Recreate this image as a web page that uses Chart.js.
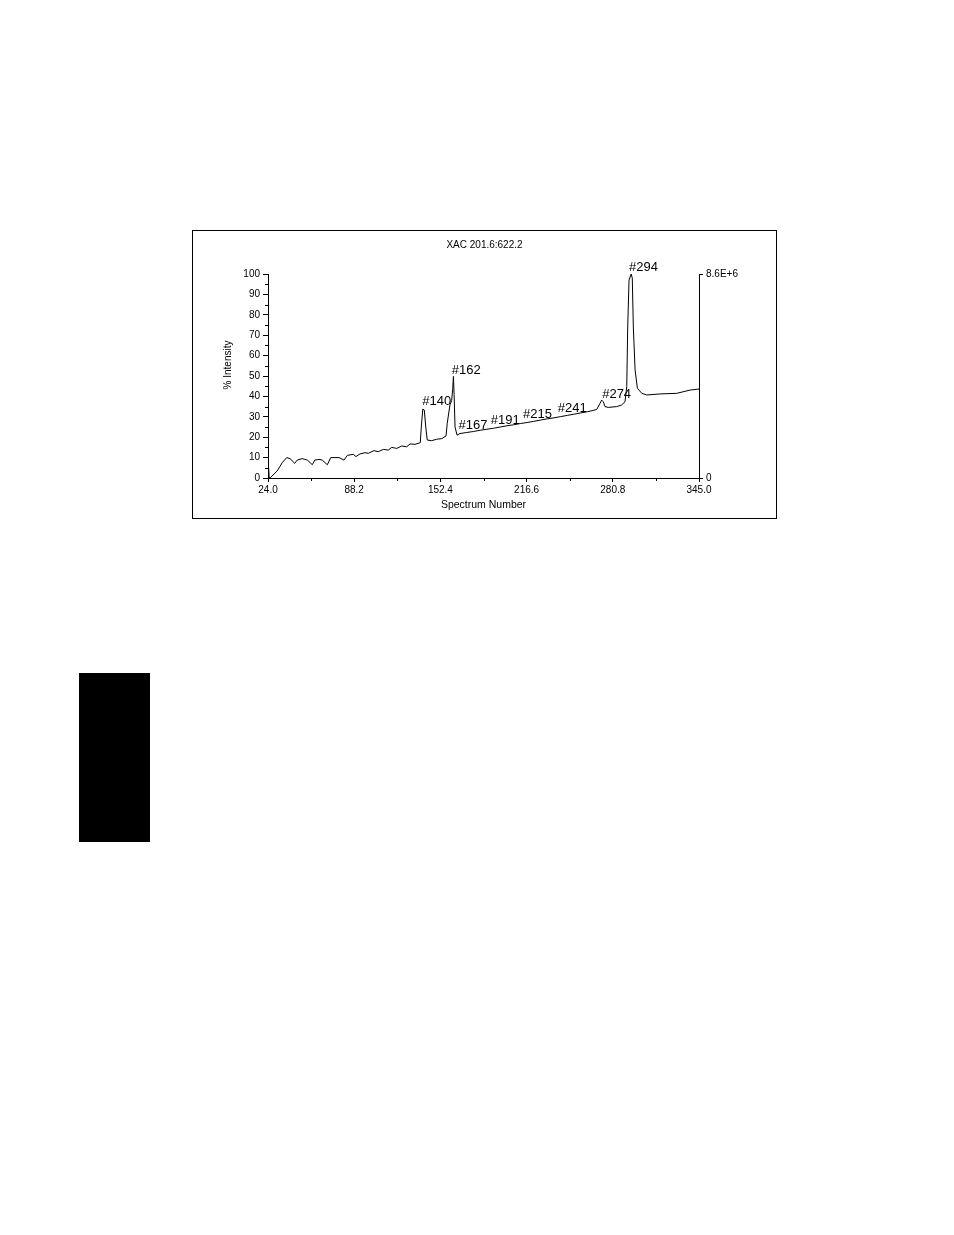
<!DOCTYPE html>
<html>
<head>
<meta charset="utf-8">
<title>XAC 201.6:622.2</title>
<script src="https://cdn.jsdelivr.net/npm/chart.js@4.4.1/dist/chart.umd.min.js"></script>
<style>
    html, body { margin: 0; padding: 0; background: #fff; }
    body { width: 954px; height: 1235px; position: relative; overflow: hidden; }
    #frame { position: absolute; left: 192px; top: 230px; width: 583px; height: 287px; border: 1px solid #000; }
    #tab { position: absolute; left: 79px; top: 673px; width: 71px; height: 169px; background: #000; }
</style>
</head>
<body>
<div id="frame"><canvas id="myChart"></canvas></div>
<div id="tab"></div>
<script>
// values (spectrum number / % intensity)
var spectrum = [24.0, 24.4, 24.9, 26.0, 30.9, 34.6, 37.9, 40.4, 43.9, 45.8, 49.5, 53.3, 57.0, 58.8, 62.0, 64.4,
    68.2, 70.7, 76.9, 80.6, 83.1, 87.5, 89.5, 92.5, 96.2, 98.7, 102.9, 106.1, 109.9, 113.6, 116.1,
    119.9, 123.6, 127.3, 129.8, 133.5, 137.4, 138.3, 139.3, 140.4, 141.5, 142.6, 145.9, 149.6, 153.4,
    156.6, 157.5, 159.5, 160.8, 161.6, 162.1, 162.6, 163.3, 164.8, 167, 172, 177, 182, 187, 192,
    197, 202, 207, 212, 217, 222, 227, 232, 237, 242, 247, 252, 257, 262, 266, 268.8, 271.3, 272.5,
    273.7, 275.0, 277.4, 283.7, 287.4, 289.9, 291.2, 291.9, 292.9, 294.5, 295.3, 296.1, 297.4, 299.1,
    302.4, 306.1, 316.0, 328.4, 338.4, 345.0];
var intensity = [0, 5.5, 0, 0.3, 3.5, 7.5, 10, 9.5, 7.2, 8.8, 9.5, 8.8, 6.5, 8.8, 9.1, 8.8,
    6.5, 10, 10, 8.8, 11.1, 11.6, 10.5, 11.8, 12.4, 12.1, 13.4, 12.9, 14, 13.7, 15,
    14.5, 15.7, 15.3, 16.7, 16.5, 17.3, 26, 33.8, 33.3, 25, 18.6, 18.3, 19, 19.3,
    20.6, 26.8, 35.8, 38, 44, 49.8, 41, 25, 21, 21.8, 22.3, 22.8, 23.4, 23.9, 24.4,
    25.0, 25.6, 26.1, 26.7, 27.2, 27.8, 28.4, 29.0, 29.5, 30.1, 30.7, 31.3, 31.9, 32.5, 33.1, 33.6, 36.6, 38.2,
    37.4, 35, 34.6, 35, 35.8, 37.4, 44.8, 74, 97, 100, 98, 74, 53, 44,
    41.5, 40.7, 41.2, 41.5, 43.1, 43.6];

var xTicks = [24.0, 88.2, 152.4, 216.6, 280.8, 345.0];
var yTicks = [0, 10, 20, 30, 40, 50, 60, 70, 80, 90, 100];
var rightTicks = [0, 8.6e6];
var rightLabels = ['0', '8.6E+6'];
var peaks = [140, 162, 167, 191, 215, 241, 274, 294];

var chartTitle = 'XAC 201.6:622.2';
var xTitle = 'Spectrum Number';
var yTitle = '% Intensity';

var fontFamily = '"Liberation Sans", Arial, Helvetica, sans-serif';
Chart.defaults.font.family = fontFamily;
Chart.defaults.font.size = 10;
Chart.defaults.color = '#000';

var valueAt = function (s) {
    for (var i = 1; i < spectrum.length; i++) {
        if (spectrum[i] >= s) {
            var t = (s - spectrum[i - 1]) / (spectrum[i] - spectrum[i - 1]);
            return intensity[i - 1] + t * (intensity[i] - intensity[i - 1]);
        }
    }
    return intensity[intensity.length - 1];
};

var midpoints = function (arr) {
    var out = [];
    for (var i = 1; i < arr.length; i++) out.push((arr[i - 1] + arr[i]) / 2);
    return out;
};

// peak labels, minor ticks and axis titles
var extras = {
    id: 'extras',
    afterDraw: function (chart) {
        var c = chart.ctx;
        var xs = chart.scales.x, ys = chart.scales.y, area = chart.chartArea;
        c.save();
        c.strokeStyle = '#000';
        c.lineWidth = 1;
        c.beginPath();
        midpoints(xTicks).forEach(function (v) {
            var px = Math.round(xs.getPixelForValue(v)) + 0.5;
            c.moveTo(px, area.bottom);
            c.lineTo(px, area.bottom + 3);
        });
        midpoints(yTicks).forEach(function (v) {
            var py = Math.round(ys.getPixelForValue(v)) + 0.5;
            c.moveTo(area.left - 3, py);
            c.lineTo(area.left, py);
        });
        c.stroke();

        c.fillStyle = '#000';
        c.font = '13px ' + fontFamily;
        c.textAlign = 'left';
        c.textBaseline = 'alphabetic';
        peaks.forEach(function (p) {
            var px = xs.getPixelForValue(p) - 1.5;
            var py = ys.getPixelForValue(valueAt(p)) - 4.5;
            c.fillText('#' + p, px, py);
        });

        c.font = '10.5px ' + fontFamily;
        c.textAlign = 'center';
        c.textBaseline = 'middle';
        c.fillText(xTitle, (area.left + area.right) / 2, area.bottom + 27.5);
        c.translate(area.left - 40, area.top + 91);
        c.rotate(-Math.PI / 2);
        c.font = '10px ' + fontFamily;
        c.fillText(yTitle, 0, 0);
        c.restore();
    }
};

var points = spectrum.map(function (s, i) { return {x: s, y: intensity[i]}; });

var ctx = document.getElementById('myChart').getContext('2d');
var myChart = new Chart(ctx, {
    type: 'line',
    data: {
        datasets: [{
            data: points,
            borderColor: '#000',
            borderWidth: 1,
            pointRadius: 0,
            tension: 0,
            fill: false,
            clip: 2,
            yAxisID: 'y'
        }]
    },
    options: {
        responsive: true,
        maintainAspectRatio: false,
        animation: false,
        layout: { padding: 0 },
        plugins: {
            legend: { display: false },
            tooltip: { enabled: false },
            title: {
                display: true,
                text: chartTitle,
                color: '#000',
                font: { size: 10, weight: 'normal' },
                padding: { top: 8, bottom: 23 }
            }
        },
        scales: {
            x: {
                type: 'linear',
                min: xTicks[0],
                max: xTicks[xTicks.length - 1],
                afterBuildTicks: function (scale) {
                    scale.ticks = xTicks.map(function (v) { return {value: v}; });
                },
                afterFit: function (scale) { scale.height = 40; },
                ticks: {
                    autoSkip: false,
                    maxRotation: 0,
                    padding: 2,
                    callback: function (v) { return Number(v).toFixed(1); }
                },
                grid: { drawOnChartArea: false, drawTicks: true, tickLength: 4, color: '#000' },
                border: { display: true, color: '#000', width: 1 }
            },
            y: {
                position: 'left',
                min: 0,
                max: 100,
                afterBuildTicks: function (scale) {
                    scale.ticks = yTicks.map(function (v) { return {value: v}; });
                },
                afterFit: function (scale) { scale.width = 75; },
                ticks: { padding: 3 },
                grid: { drawOnChartArea: false, drawTicks: true, tickLength: 5, color: '#000' },
                border: { display: true, color: '#000', width: 1 }
            },
            y1: {
                position: 'right',
                min: rightTicks[0],
                max: rightTicks[1],
                afterBuildTicks: function (scale) {
                    scale.ticks = rightTicks.map(function (v) { return {value: v}; });
                },
                afterFit: function (scale) { scale.width = 77; },
                ticks: {
                    padding: 3,
                    callback: function (v, i) { return rightLabels[i]; }
                },
                grid: { drawOnChartArea: false, drawTicks: true, tickLength: 4, color: '#000' },
                border: { display: true, color: '#000', width: 1 }
            }
        }
    },
    plugins: [extras]
});
</script>
</body>
</html>
